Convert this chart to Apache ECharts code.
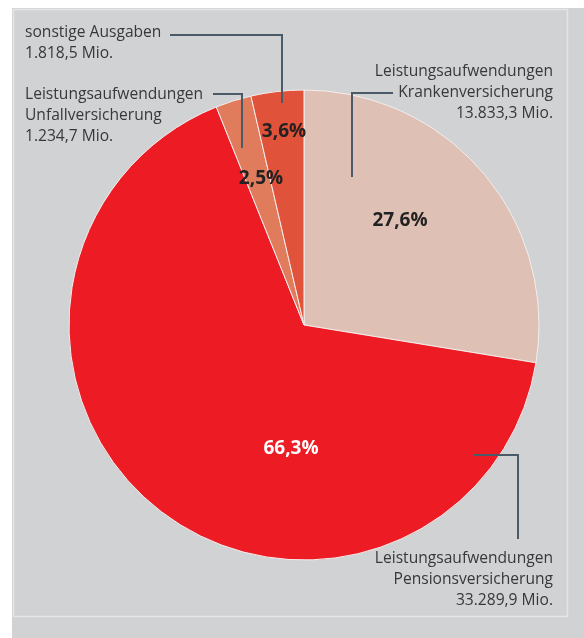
<!DOCTYPE html>
<html>
<head>
<meta charset="utf-8">
<script src="https://cdn.jsdelivr.net/npm/echarts@6/dist/echarts.min.js"></script>
<style>
html, body { margin: 0; padding: 0; background: #fff; }
#chart { width: 584px; height: 638px; }
</style>
</head>
<body>
<div id="chart"></div>
<script>
// Ausgaben nach Bereichen (Mio.)
var categories = [
	'Leistungsaufwendungen\nKrankenversicherung',
	'Leistungsaufwendungen\nPensionsversicherung',
	'Leistungsaufwendungen\nUnfallversicherung',
	'sonstige Ausgaben'
]
var values = [13833.3, 33289.9, 1234.7, 1818.5]

var colors = ['#dfc0b5', '#ed1c24', '#e07b5c', '#e05239']
// Prozent-Beschriftung innerhalb der Segmente
var pctPos = [[400, 221], [291, 449], [261, 179], [284, 132]]
var pctColor = ['#222', '#fff', '#222', '#222']
// Beschriftung außen: x, y (oben), Ausrichtung
var namePos = [
	[553, 61, 'right'],
	[553, 548, 'right'],
	[25, 84, 'left'],
	[25, 22, 'left']
]
// Hinweislinien
var leaders = [
	[[393, 93], [352, 93], [352, 177]],
	[[474, 455], [518, 455], [518, 539]],
	[[213, 94], [242, 94], [242, 148]],
	[[170, 35], [282, 35], [282, 103]]
]

function deNum(v) {
	var parts = v.toFixed(1).split('.')
	return parts[0].replace(/\B(?=(\d{3})+(?!\d))/g, '.') + ',' + parts[1]
}

var chart = echarts.init(document.getElementById('chart'))

var graphics = [
	{
		type: 'rect',
		shape: { x: 12, y: 8, width: 572, height: 630 },
		style: { fill: '#d1d2d4' },
		z: -10
	},
	{
		type: 'rect',
		shape: { x: 13.5, y: 9.5, width: 554, height: 607 },
		style: { fill: 'none', stroke: '#e4e5e6', lineWidth: 1.5 },
		z: -9
	}
]

categories.forEach(function (name, i) {
	graphics.push({
		type: 'text',
		x: namePos[i][0],
		y: namePos[i][1],
		style: {
			text: name + '\n' + deNum(values[i]) + ' Mio.',
			align: namePos[i][2],
			verticalAlign: 'top',
			font: '15.6px "Open Sans"',
			lineHeight: 21,
			fill: '#383838'
		},
		z: 10
	})
	graphics.push({
		type: 'polyline',
		shape: { points: leaders[i] },
		style: { stroke: '#4b5a68', lineWidth: 2, fill: 'none' },
		z: 10
	})
})

chart.setOption({
	backgroundColor: '#fff',
	animation: false,
	color: colors,
	graphic: graphics,
	series: [
		{
			type: 'pie',
			center: [304, 325],
			radius: 235,
			startAngle: 90,
			clockwise: true,
			itemStyle: {
				borderColor: '#f4eeee',
				borderWidth: 1
			},
			label: {
				show: true,
				position: 'inside',
				fontFamily: 'Open Sans',
				fontWeight: 'bold',
				fontSize: 19,
				formatter: function (p) {
					return p.percent.toFixed(1).replace('.', ',') + '%'
				},
				color: '#222'
			},
			labelLayout: function (p) {
				return {
					x: pctPos[p.dataIndex][0],
					y: pctPos[p.dataIndex][1],
					align: 'center',
					verticalAlign: 'middle'
				}
			},
			emphasis: { disabled: true },
			data: categories.map(function (c, i) {
				return {
					name: c,
					value: values[i],
					label: { color: pctColor[i] }
				}
			})
		}
	]
})
</script>
</body>
</html>
